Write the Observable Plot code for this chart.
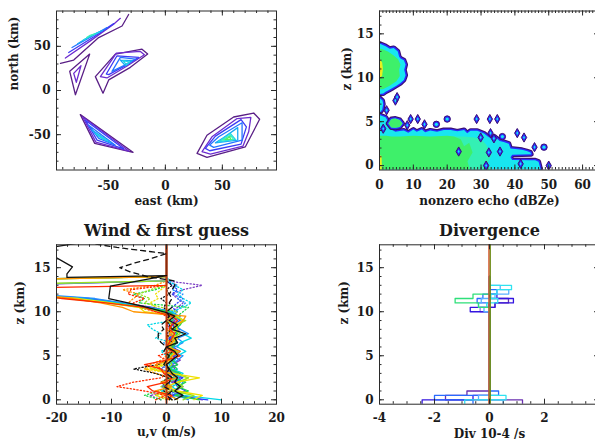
<!DOCTYPE html>
<html><head><meta charset="utf-8">
<script src="https://cdn.jsdelivr.net/npm/d3@7"></script>
<script src="https://cdn.jsdelivr.net/npm/@observablehq/plot@0.6"></script>
<style>
html,body{margin:0;padding:0;background:#fff;overflow:hidden}
#wrap{position:relative;width:595px;height:440px;overflow:hidden;background:#fff}
</style></head><body><div id="wrap"></div>
<script>
// ---------------- Panel 1: contours (east, north in km) ----------------
const contourColors = ["#5a1f86", "#6d2ccf", "#3b3bf5", "#2575ff", "#1aa8f5", "#22d6e6", "#3cf0b8", "#55ee60"];
const contourA0 = [[-92,30.7],[-80.4,34.5],[-58.5,59.9],[-38,73],[-32.2,86]];
const contourA1 = [[-87.7,36.7],[-65.8,56.2],[-45.4,74.9],[-39.5,81.7]];
const contourA2 = [[-84.8,43],[-63,60.5],[-45.3,75.7]];
const contourA3 = [[-81.9,48.7],[-65,61],[-51.2,71.2]];
const contourA4 = [[-77,53],[-66,61.5],[-55,68]];
const contourA5 = [[-72,57],[-65,62],[-58,66]];
const contourA6 = [[-69,60],[-66,62.5],[-62,64]];
const contourB0 = [[-83.9,21.7],[-66.4,41.2],[-78.9,-4.8],[-83.9,21.7]];
const contourB1 = [[-80.4,19.4],[-74,28.1],[-78.1,9.3],[-80.4,19.4]];
const contourC0 = [[-61.4,15.7],[-43.9,41.2],[-20.5,46.8],[-15.5,41.2],[-30.7,26.2],[-49.7,12],[-54.7,-3],[-61.4,15.7]];
const contourC1 = [[-57,15.7],[-43,42.3],[-21.9,44.2],[-18.4,40.4],[-33.6,27.7],[-51.2,14.2],[-57,15.7]];
const contourC2 = [[-51.8,18.7],[-42.4,39.3],[-23.4,37.5],[-35.1,28.1],[-49.7,18],[-51.8,18.7]];
const contourC3 = [[-46.8,21.7],[-39.5,37.5],[-26.3,35.6],[-36.5,28.1],[-46.8,21.7]];
const contourC4 = [[-39.5,34.5],[-29.2,33.7],[-35.1,28.1],[-39.5,34.5]];
const contourC5 = [[-37.1,33.7],[-31.3,32.2],[-34.2,29.2],[-37.1,33.7]];
const contourD0 = [[-74.6,-27.3],[-62,-59.9],[-28.4,-70],[-74.6,-27.3]];
const contourD1 = [[-72.5,-30],[-61,-58.5],[-32,-68.5],[-72.5,-30]];
const contourD2 = [[-70.2,-33.7],[-59.9,-56.2],[-36.5,-66],[-70.2,-33.7]];
const contourD3 = [[-67.3,-39.3],[-58.5,-54.3],[-43.9,-62],[-67.3,-39.3]];
const contourD4 = [[-64.3,-44.9],[-57,-53.2],[-48.2,-59],[-64.3,-44.9]];
const contourD5 = [[-61,-49],[-56,-53.5],[-51,-56.5],[-61,-49]];
const contourE0 = [[27.8,-71.2],[36.5,-50.6],[59.9,-30],[77.5,-25.5],[82.7,-32.6],[70.2,-63.7],[36.5,-75.7],[27.8,-71.2]];
const contourE1 = [[32.2,-69.3],[40.9,-52.4],[62.9,-31.8],[75,-30.5],[73.1,-46.8],[68.1,-62.9],[39.5,-71.9],[32.2,-69.3]];
const contourE2 = [[35.1,-65.5],[43.9,-51.7],[66.4,-33],[71.1,-41.2],[66.4,-60.7],[38.9,-68.2],[35.1,-65.5]];
const contourE3 = [[38.9,-61.8],[46.8,-52.4],[67.3,-36.5],[67.3,-56.2],[42.4,-64.4],[38.9,-61.8]];
const contourE4 = [[43.9,-59.2],[51.2,-53.2],[63.5,-42],[63.5,-56.2],[43.9,-59.2]];
const contourE5 = [[46.8,-58],[57,-48.7],[61.4,-55.4],[46.8,-58]];
const contourE6 = [[49.7,-56.2],[57,-50.6],[59.9,-55.4],[49.7,-56.2]];
const contourE7 = [[52.6,-55.4],[56.4,-52.4],[57.6,-55.4],[52.6,-55.4]];
const contourLines = [contourA0,contourA1,contourA2,contourA3,contourA4,contourA5,contourA6,contourB0,contourB1,
  contourC0,contourC1,contourC2,contourC3,contourC4,contourC5,contourD0,contourD1,contourD2,contourD3,contourD4,contourD5,
  contourE0,contourE1,contourE2,contourE3,contourE4,contourE5,contourE6,contourE7];
const contourLevels = [0,1,2,3,4,5,6,0,1, 0,1,2,3,4,5, 0,1,2,3,4,5, 0,1,2,3,4,5,6,7];

// ---------------- Panel 2: nonzero echo (dBZe vs z) ----------------
const echoUpperPoly = [[-1,13.9],[0,13.9],[1.8,13.6],[3.05,13.3],[4.2,13.4],[5.4,13.0],[5.8,12.4],[6.2,12.2],[7.2,12.0],[7.7,11.5],
  [7.3,10.9],[7.7,10.3],[7.2,9.75],[6.2,9.4],[5.0,9.1],[3.7,8.8],[2.8,8.6],[1.8,8.4],[1.1,8.2],[0,8.15],[-1,8.15]];
const echoUpperGreenPoly = [[-1,13.3],[0.5,13.3],[2.5,13.0],[4.0,12.6],[5.5,12.1],[6.2,11.5],[5.8,10.9],[6.0,10.2],[5.0,9.6],[3.0,9.1],[1.0,8.7],[-1,8.7]];
const echoYellowPoly = [[-1,12.2],[0,12.2],[0.8,11.7],[1.0,11.0],[0.8,10.3],[0,9.8],[-1,9.8]];
const echoOrangePoly = [[-1,11.5],[0.3,11.2],[0.3,10.7],[-1,10.5]];
const echoLobePoly = [[-1,7.7],[0,7.7],[0.9,7.4],[1.1,7.0],[0.8,6.4],[0,6.0],[-1,6.0]];
const echoSlabPoly = [[-1,5.75],[0,5.75],[1.8,5.5],[2.6,5.0],[3.2,4.2],[4.7,3.85],[6,3.95],[7.2,4.0],[8.5,3.75],[10,4.1],[11,3.85],
  [12.5,4.1],[13.5,3.8],[15,4.0],[17,3.85],[19,4.05],[21,4.05],[23,3.9],[25,4.05],[25.9,3.67],[26.9,3.97],[28.9,3.97],[30.9,3.65],
  [32,3.3],[33,3.1],[34,3.3],[35.5,2.8],[36.7,2.7],[38.2,2.5],[38.7,1.95],[42.1,1.8],[43.5,1.65],[44.6,1.5],[44.8,1.3],
  [39.2,1.25],[38.7,0.95],[39.2,0.65],[44.5,0.6],[46,0.6],[47,0.45],[47.5,-0.3],[48,-1],[-1,-1]];
const echoSlabMixPoly = [[20,3.3],[25,3.3],[28,3.2],[30,3.0],[31.5,2.4],[33,1.2],[32,0.3],[34,-1],[20,-1]];
const echoSlabGreenPoly = [[-1,3.4],[2,3.4],[3.5,3.3],[6,3.3],[10,3.4],[15,3.3],[20,3.4],[22,3.3],[24,3.0],[25,2.2],[26.5,2.6],
  [27.5,1.5],[26,0.5],[27,-1],[-1,-1]];
const echoSlabYellowPoly = [[-1,1.3],[0.6,1.1],[0.7,0],[0.5,-1],[-1,-1]];
const echoLensPoly = [[2.6,4.8],[3.5,5.3],[4.7,5.35],[6,5.2],[6.8,4.8],[6,4.4],[4.7,4.3],[3.5,4.35],[2.6,4.8]];
const echoDiamX = [1.1, 2.1, 4.7, 5.2, 8.2, 9.2, 11.3, 13.3, 28.7, 32.6, 34.8, 32.8, 33.8, 29.9, 40.7, 42.7, 45.8, 23.4, 35.6, 31.5, 50, 41.7, 32.3];
const echoDiamZ = [4.2, 6.3, 7.4, 7.8, 4.6, 5.3, 5.3, 4.7, 5.3, 5.3, 5.3, 3.7, 3.1, 3.2, 3.7, 3.2, 2.1, 1.6, 1.6, 0, 0, 0.2, 1.5];
const echoOvalX = [16.8, 20, 48.6, 36.3];
const echoOvalZ = [4.7, 5.3, 2.1, 3.3];

// ---------------- Panel 3: wind & first guess (u,v vs z) ----------------
const zWind = [0,0.5,1,1.5,2,2.5,3,3.5,4,4.5,5,5.5,6,6.5,7,7.5,8,8.5,9,9.5,10,10.5,11,11.5,12,12.5,13,13.5,14];
const uPurple = [6.5,2.5,1.5,3,1,2.5,0.5,1.5,1,2.5,1,2,0.5,1.5,2,1,2.5,1,1.5,2,0.5,-2.5,-8,-14,-26,-32,-30,0,0];
const uBlue   = [7.5,1,3.5,2,1.5,3,1,0,2,1,1.5,2.5,1,2,0.5,1.5,2,1,2.5,1.5,1,-3,-9,-15,-28,-34,-36,-40,0];
const uLBlue  = [4,2,1,2.5,3,1.5,2,0.5,1,2,3,1,1.5,3,2,4,2.5,1.5,2,2.5,0,-4,-8,-13,-24,-30,-33,0,0];
const uCyan   = [10,3,2,1,2.5,2,3,1,0.5,1.5,2,3.5,2,2.5,4.5,3,1.5,2,3,2,1,-3.5,-9,-16,-30,-35,-34,-37,0];
const uGreen  = [6,1.5,4,2,3.5,1,2.5,0.5,2,1,0.5,1.5,1,2,1,2,1.5,2.5,3,1.5,0.5,-4,-10,-17,-30,-38,-40,-42,0];
const uLime   = [3,5,1,3,2,4,1.5,0,1,0.5,1,2,0.5,1.5,1,2.5,1,2,3.5,1,-1,-5,-11,-18,-32,-36,-38,0,0];
const uYellow = [5,6.5,2,0,2,6,1,-3,-0.5,0.5,1,1.5,0.5,1,2,1,2,1.5,3,2,-4,-5,-10,-16,-28,-34,-36,-39,0];
const uOrange = [2,0.5,-2,1,-1,2,0.5,-1.5,-2,0.5,1,2.5,0,1,1.5,0.5,1,2,3,3.5,-6,-8,-12,-17,-26,-30,-35,-38,0];
const uRed    = [0,1,-2.5,-3.5,0,1,-0.5,-1,-4,0,2.5,1,0,0.5,1,1.5,0.5,1,2,1,-2,-4,-11,-19,-24,-45,0,0,0];
const vPurple = [-1,-3,1,0,2,0.5,1,-1,0,1.5,0,1,2,0,1,0.5,1,0,1.5,0.5,1,2,3,2,1,3,6.5,0,0];
const vBlue   = [1,0,2,-1,1,0.5,2,0,1,0.5,1.5,0,1,2,0.5,1,0,1,0.5,1,2,1,2,3,1,2,1,0,0];
const vLBlue  = [0,1.5,-0.5,1,0,2,0.5,-1,0.5,1,0,1.5,0.5,-0.5,1,0,1.5,0.5,1,0,1.5,2.5,3.5,2,3,1,2,0,0];
const vCyan   = [2,1,-1,0.5,1.5,0,1,2,0.5,1,0,-1,0.5,1,-2,-1,-2.5,-3.5,1,2,1,3,4.5,3,2,3,1.5,0.5,0];
const vGreen  = [-1,-4,-1.5,0.5,-1,1,0,2,1,0.5,0,1,1.5,0.5,1,2,1,0.5,1,2,3,4,-5,-4,-6,-2,0,0,0];
const vLime   = [0,-2,1,-1,0.5,2,1,-2.5,0,1,0.5,0,1,0.5,0,1,0.5,1.5,0,1,2,-1,-4,-3,-5,-3,0,0,0];
const vYellow = [1,-2,0,1,2.5,4,1,-4,-1,0,1,0.5,1,0,1.5,1,0.5,1,0,1,-1,-2,-3,-1.5,-2,-1,0,0,0];
const vOrange = [0.5,-1,1,0,0.5,1,-2,-4,-3,-1,0,1,0,0.5,0,1,0,1,0.5,1,-1,-3,-7,-6,-5,-8,-2,0,0];
const vRed    = [-2,0,-4,-9,-6,-1,0,-1,-2,0,-1.5,1,0,1,0,0.5,1,0,0.5,0,-2,-5,-6,-4,-7,-6.5,0,0,0];
const vBlack  = [0.5,1,-0.5,0,-1,0.5,-2,-6,-1.5,0,0.5,1,0,1,0.5,0,1,0.5,0,0.5,0,-0.5,0,-1,0.5,0,1,0,0];
const zBlackSolid = [0,0.5,1,1.5,2,2.5,3,3.5,4,4.5,5,5.5,6,6.5,7,7.5,8,8.5,9,9.5,9.9,10.5,11,11.5,12.9,14.1,13.9,14.3,15.1,16.2,16.8,17.9];
const uBlackSolid = [1.5,3,1.5,2.5,1.5,2,1,0.5,0,1,2,1.5,0,2,1.5,3.5,1,2,0.5,1.5,0,-3.5,-7,-10.5,-10.2,0,-18.1,-18.1,-17.1,-20.2,-26,-15];
const zBlackDash = [0,0.5,1,1.5,2,2.5,3,3.5,4,4.5,5,5.5,6,6.5,7,7.5,8,8.5,9,9.5,10,10.5,11,11.5,12,12.5,13,13.5,14,14.5,15,15.5,16,16.6,17.3,17.9];
const uBlackDash = [1,0,1,-0.5,0.5,1,0,0.5,-0.5,0,0.5,-0.5,0,-1,-1.5,-1.5,-0.5,-1,0,0.5,0,1,0.5,1,0.5,1,1.5,1.5,-3.5,-6.5,-8.5,-6,-3,0,-9,-15];
const zZeroTop = [14, 17.6];
const windColors = {purple:"#7b3fc4", blue:"#2b3cff", lblue:"#1e90ff", cyan:"#00d8e8", green:"#1fd64a", lime:"#9be21f", yellow:"#f0e000", orange:"#ff9500", red:"#ff2a00"};

// ---------------- Panel 4: divergence (10^-4 /s), 0.5 km bins centred at zDivBins ----------------
const zDivBins  = [-0.25,0.25,0.75,1.25,1.75,2.25,2.75,3.25,3.75,4.25,4.75,5.25,5.75,6.25,6.75,7.25,7.75,8.25,8.75,9.25,9.75,10.25,10.75,11.25,11.75,12.25,12.75,13.25,13.75];
const divPurple = [1.2,-1.6,-0.82, 0,0,0,0,0,0,0,0,0,0,0,0,0,0,0,0,0,0,0, 0.2,0.69, 0,0,0,0,0];
const divDBlue  = [-2.45,-0.6, 0,0,0,0,0,0,0,0,0,0,0,0,0,0,0,0,0,0,0, -0.7,0.2,0.87,0.27, 0,0,0,0];
const divBlue   = [-0.6,-2.0,0.33, 0,0,0,0,0,0,0,0,0,0,0,0,0,0,0,0,0,0,0,0, -0.45,-0.24,0.27, 0,0,0];
const divLBlue  = [0.5,-0.4, 0,0,0,0,0,0,0,0,0,0,0,0,0,0,0,0,0,0,0, -0.2,-0.4,-0.3,0.2,0.7,0.39, 0,0];
const divCyan   = [-0.9,0.6, 0,0,0,0,0,0,0,0,0,0,0,0,0,0,0,0,0,0,0,0, -0.1,0.3,0.05,0.27,0.8, 0,0];
const divGreen  = [0,0,0,0,0,0,0,0,0,0,0,0,0,0,0,0,0,0,0,0,0,0, -0.4,-1.25,-0.6, 0,0,0,0];
const divLav    = [0,0,0,0,0,0,0,0,0,0,0,0,0,0,0,0,0,0,0,0,0, -0.34,-0.04, 0,0,0,0,0,0];
const divColors = {purple:"#6a2fb0", dblue:"#3416e0", blue:"#2a6aff", lblue:"#58b0ff", cyan:"#30e2f0", green:"#2ee07a", lav:"#8f7ae6"};

// ---------------- Axes ----------------
const ticks1X = [-50, 0, 50], ticks1Y = [-50, 0, 50];
const ticks2X = [0, 10, 20, 30, 40, 50, 60], ticksZ = [0, 5, 10, 15];
const ticks3X = [-20, -10, 0, 10, 20];
const ticks4X = [-4, -2, 0, 2];

const wrap = document.getElementById("wrap");
const FONT = "'DejaVu Serif', serif";
const TK = "#2a2a2a";

function panel(cfg) {
  const W = 300, H = 220;
  const fw = W - cfg.mL - cfg.mR, fh = H - cfg.mT - cfg.mB;
  const ax = [
    Plot.ruleX(cfg.xMinor, {x: d => d, insetTop: fh - 2.5, stroke: TK}),
    Plot.ruleX(cfg.xMinor, {x: d => d, insetBottom: fh - 2.5, stroke: TK}),
    Plot.ruleX(cfg.xMajor, {x: d => d, insetTop: fh - 5, stroke: TK}),
    Plot.ruleX(cfg.xMajor, {x: d => d, insetBottom: fh - 5, stroke: TK}),
    Plot.ruleY(cfg.yMinor, {y: d => d, insetRight: fw - 2.5, stroke: TK}),
    Plot.ruleY(cfg.yMinor, {y: d => d, insetLeft: fw - 2.5, stroke: TK}),
    Plot.ruleY(cfg.yMajor, {y: d => d, insetRight: fw - 5, stroke: TK}),
    Plot.ruleY(cfg.yMajor, {y: d => d, insetLeft: fw - 5, stroke: TK}),
    Plot.frame({stroke: TK, strokeWidth: 1}),
    Plot.text(cfg.xMajor, {x: d => d, text: d => String(d), frameAnchor: "bottom", dy: cfg.tickDy, lineAnchor: "bottom"}),
    Plot.text(cfg.yMajor, {y: d => d, text: d => String(d), frameAnchor: "left", dx: -6, textAnchor: "end"}),
    Plot.text([cfg.xLabel], {text: d => d, frameAnchor: "bottom", dy: cfg.labelDy, lineAnchor: "bottom"}),
    Plot.text([cfg.yLabel], {text: d => d, frameAnchor: "left", dx: cfg.yLabelDx, rotate: -90})
  ];
  if (cfg.title) ax.push(Plot.text([cfg.title], {text: d => d, frameAnchor: "top", dy: -8.6, lineAnchor: "bottom", fontSize: 16}));
  const svg = Plot.plot({
    width: W, height: H,
    marginLeft: cfg.mL, marginRight: cfg.mR, marginTop: cfg.mT, marginBottom: cfg.mB,
    x: {domain: cfg.xDomain, axis: null},
    y: {domain: cfg.yDomain, axis: null},
    style: {background: "transparent", fontFamily: FONT, fontSize: "12px", fontWeight: "bold", color: "#1a1a1a", overflow: "visible"},
    marks: [...cfg.marks, ...ax]
  });
  svg.style.position = "absolute";
  svg.style.left = cfg.left + "px";
  svg.style.top = cfg.top + "px";
  svg.style.maxWidth = "none";
  wrap.appendChild(svg);
}

// ---- Panel 1 marks
const p1Marks = contourLines.map((pts, i) =>
  Plot.line(pts, {x: d => d[0], y: d => d[1], stroke: contourColors[contourLevels[i]], strokeWidth: 1.3, clip: true}));
panel({left: 0, top: 0, mL: 56, mR: 24, mT: 10.5, mB: 50.5,
  xDomain: [-95.5, 97.5], yDomain: [-90, 90],
  xMajor: ticks1X, xMinor: d3.range(-90, 91, 10), yMajor: ticks1Y, yMinor: d3.range(-80, 81, 10),
  tickDy: 20, labelDy: 34.5, yLabelDx: -42, xLabel: "east (km)", yLabel: "north (km)", marks: p1Marks});

// ---- Panel 2 marks
const PUR = "#3d0f73", BLU = "#2a2aff", CYA = "#18e6f0", GRN = "#3ef06a", MIX = "#34f0b4", YEL = "#e8f020", ORA = "#ffb000";
function rowsXY(xs, ys) { return xs.map((x, i) => ({x, y: ys[i]})); }
const P = {x: d => d[0], y: d => d[1], clip: true};
function region(poly) {
  return [Plot.line(poly, {...P, stroke: PUR, strokeWidth: 5}),
          Plot.line(poly, {...P, stroke: BLU, strokeWidth: 2.8}),
          Plot.line(poly, {...P, stroke: "none", fill: CYA})];
}
function patch(poly, color) { return Plot.line(poly, {...P, stroke: "none", fill: color}); }
const p2Marks = [
  ...region(echoUpperPoly),
  patch(echoUpperGreenPoly, GRN),
  patch(echoYellowPoly, YEL),
  patch(echoOrangePoly, ORA),
  ...region(echoLobePoly),
  ...region(echoSlabPoly),
  patch(echoSlabMixPoly, MIX),
  patch(echoSlabGreenPoly, GRN),
  patch(echoSlabYellowPoly, YEL),
  ...region(echoLensPoly),
  patch(echoLensPoly, GRN),
  Plot.dot(rowsXY(echoDiamX, echoDiamZ), {x: "x", y: "y", symbol: "diamond", r: 2.8, fill: BLU, stroke: PUR, strokeWidth: 1, clip: true}),
  Plot.dot(rowsXY(echoDiamX, echoDiamZ), {x: "x", y: "y", symbol: "diamond", r: 1.1, fill: CYA, clip: true}),
  Plot.dot(rowsXY(echoOvalX, echoOvalZ), {x: "x", y: "y", r: 3.2, fill: BLU, stroke: PUR, strokeWidth: 1, clip: true}),
  Plot.dot(rowsXY(echoOvalX, echoOvalZ), {x: "x", y: "y", r: 1.6, fill: CYA, clip: true})
];
panel({left: 300, top: 0, mL: 79, mR: 1, mT: 10.5, mB: 50.5,
  xDomain: [0, 65], yDomain: [-0.5, 17.6],
  xMajor: ticks2X, xMinor: d3.range(1, 65, 1), yMajor: ticksZ, yMinor: d3.range(0, 18, 1),
  tickDy: 19, labelDy: 34.5, yLabelDx: -32, xLabel: "nonzero echo (dBZe)", yLabel: "z (km)", marks: p2Marks});

// ---- Panel 3 marks
function prof(zs, us) { return zs.map((z, i) => ({z, u: us[i]})); }
const dotted = [[vPurple,"purple"],[vBlue,"blue"],[vLBlue,"lblue"],[vCyan,"cyan"],[vGreen,"green"],[vLime,"lime"],[vYellow,"yellow"],[vOrange,"orange"],[vRed,"red"]];
const solid = [[uPurple,"purple"],[uBlue,"blue"],[uLBlue,"lblue"],[uCyan,"cyan"],[uGreen,"green"],[uLime,"lime"],[uYellow,"yellow"],[uOrange,"orange"],[uRed,"red"]];
const p3Marks = [
  ...dotted.map(([v, c]) => Plot.line(prof(zWind, v), {x: "u", y: "z", stroke: windColors[c], strokeWidth: 1.3, strokeDasharray: "1.2,2.2", clip: true})),
  Plot.line(prof(zWind, vBlack), {x: "u", y: "z", stroke: "#111", strokeWidth: 1.3, strokeDasharray: "1.2,2.2", clip: true}),
  ...solid.map(([u, c]) => Plot.line(prof(zWind, u), {x: "u", y: "z", stroke: windColors[c], strokeWidth: 1.3, clip: true})),
  Plot.ruleX([0], {stroke: "#c23a10", strokeWidth: 2}),
  Plot.ruleX([0], {y1: zZeroTop[0], y2: zZeroTop[1], stroke: "#8a2a0a", strokeWidth: 2}),
  Plot.line(prof(zBlackDash, uBlackDash), {x: "u", y: "z", stroke: "#111", strokeWidth: 1.3, strokeDasharray: "5,4", clip: true}),
  Plot.line(prof(zBlackSolid, uBlackSolid), {x: "u", y: "z", stroke: "#111", strokeWidth: 1.3, clip: true})
];
panel({left: 0, top: 220, mL: 56, mR: 24, mT: 24.3, mB: 36.3,
  xDomain: [-20, 20], yDomain: [-0.5, 17.6],
  xMajor: ticks3X, xMinor: d3.range(-18, 19, 2), yMajor: ticksZ, yMinor: d3.range(0, 18, 1),
  tickDy: 17.5, labelDy: 31.5, yLabelDx: -36, xLabel: "u,v (m/s)", yLabel: "z (km)", title: "Wind & first guess", marks: p3Marks});

// ---- Panel 4 marks: each bin drawn as a vertical segment at its value, joined at bin edges
function binSteps(vals) {
  const pts = [];
  zDivBins.forEach((c, i) => { pts.push({v: vals[i], z: c - 0.25}); pts.push({v: vals[i], z: c + 0.25}); });
  return pts;
}
const divSeries = [[divLav,"lav"],[divPurple,"purple"],[divDBlue,"dblue"],[divBlue,"blue"],[divLBlue,"lblue"],[divCyan,"cyan"],[divGreen,"green"]];
const p4Marks = [
  ...divSeries.map(([d, c]) => Plot.line(binSteps(d), {x: "v", y: "z", stroke: divColors[c], strokeWidth: 1.3, clip: true})),
  Plot.ruleX([0], {stroke: "#d0481a", strokeWidth: 1.4, dx: -0.5}),
  Plot.ruleX([0], {stroke: "#6b8a12", strokeWidth: 1.2, dx: 0.8})
];
panel({left: 300, top: 220, mL: 79, mR: 1, mT: 24.3, mB: 36.3,
  xDomain: [-4, 4], yDomain: [-0.5, 17.6],
  xMajor: ticks4X, xMinor: d3.range(-3.5, 3.6, 0.5), yMajor: ticksZ, yMinor: d3.range(0, 18, 1),
  tickDy: 18, labelDy: 33.5, yLabelDx: -35.7, xLabel: "Div 10-4 /s", yLabel: "z (km)", title: "Divergence", marks: p4Marks});
</script></body></html>
